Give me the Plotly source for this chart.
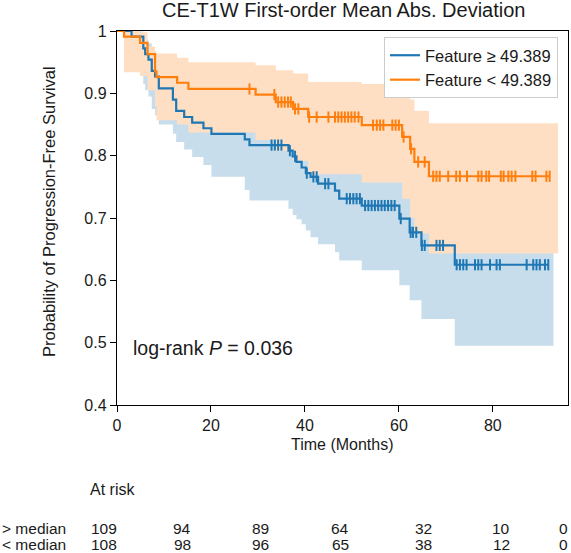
import numpy as np
import plotly.graph_objects as go

# ---------------- data ----------------
title = "CE-T1W First-order Mean Abs. Deviation"
hi_label = "Feature \u2265 49.389"
lo_label = "Feature < 49.389"

# group "Feature >= 49.389" (blue)
hi_times = [0, 3.1, 5.6, 6.0, 6.7, 7.4, 8.1, 8.9, 11.9, 12.6, 14.3, 16.0, 18.4, 20.1, 27.2, 28.2,
            36.5, 37.4, 38.2, 39.3, 40.2, 41.2, 42.8, 46.4, 47.3, 52.1, 60.1, 62.3, 64.8, 71.9]
hi_surv = [1.0, .991, .972, .963, .954, .936, .927, .908, .890, .872, .862, .853, .844, .835, .826, .817,
           .808, .799, .790, .781, .772, .766, .755, .744, .731, .720, .699, .677, .656, .625]
hi_lower = [1.0, .936, .915, .905, .895, .875, .865, .850, .835, .822, .810, .798, .785, .766, .745, .728,
            .715, .705, .698, .690, .680, .669, .658, .645, .632, .616, .592, .568, .538, .495]
hi_upper = [1.0, .999, .991, .986, .980, .969, .963, .950, .936, .922, .914, .907, .900, .893, .886, .879,
            .872, .866, .860, .853, .846, .840, .833, .825, .815, .806, .792, .775, .757, .733]
hi_censor = [32.9, 33.6, 34.3, 35.0, 36.8, 37.9, 40.4, 41.8, 42.5, 44.3, 45.0, 48.9, 49.6, 50.3, 51.0,
             51.7, 52.8, 53.5, 54.2, 54.9, 55.6, 56.3, 57.0, 57.7, 58.4, 59.1, 60.4, 62.5, 63.0, 63.7,
             64.9, 65.5, 68.0, 68.7, 69.4, 72.3, 73.0, 73.7, 74.4, 76.2, 76.9, 77.6, 79.4, 80.8, 81.5,
             87.2, 88.6, 89.3, 90.0, 91.1, 91.8]
hi_band_end = 92.9

# group "Feature < 49.389" (orange)
lo_times = [0, 1.5, 4.9, 6.5, 8.1, 8.4, 12.8, 15.2, 29.5, 33.8, 37.5, 40.7, 52.1, 60.7, 62.4, 63.3, 66.4]
lo_surv = [1.0, .991, .981, .963, .935, .926, .917, .907, .898, .886, .875, .862, .849, .830, .811, .790, .767]
lo_lower = [1.0, .934, .928, .905, .880, .857, .850, .837, .825, .808, .792, .770, .757, .731, .700, .675, .643]
lo_upper = [1.0, 1.0, .998, .975, .968, .964, .957, .950, .945, .937, .932, .918, .915, .902, .890, .872, .852]
lo_censor = [28.2, 33.5, 34.3, 35.0, 35.7, 36.4, 37.0, 37.9, 38.6, 40.9, 42.5, 45.0, 46.4, 47.1, 47.8,
             48.5, 49.2, 49.9, 50.6, 51.4, 54.5, 55.3, 56.0, 56.7, 58.6, 59.3, 60.0, 61.0, 62.6, 64.1,
             65.5, 67.3, 68.0, 68.7, 70.5, 72.2, 73.0, 74.5, 76.9, 77.6, 78.6, 79.2, 81.7, 82.3, 83.3,
             84.0, 84.8, 88.4, 89.1, 91.4, 92.1]
lo_band_end = 93.9

x_ticks = [0, 20, 40, 60, 80]
y_ticks = [0.4, 0.5, 0.6, 0.7, 0.8, 0.9, 1.0]
y_ticktext = ["0.4", "0.5", "0.6", "0.7", "0.8", "0.9", "1"]

at_risk_title = "At risk"
at_risk_rows = ["> median", "< median"]
at_risk_hi = [109, 94, 89, 64, 32, 10, 0]
at_risk_lo = [108, 98, 96, 65, 38, 12, 0]

pvalue_text = "log-rank <i>P</i> = 0.036"

# ---------------- styling ----------------
BLUE = "#1f77b4"
ORANGE = "#ff7f0e"
BLUE_BAND = "rgb(199,221,236)"
ORANGE_BAND = "rgb(255,223,195)"
FONT = "Arial, Liberation Sans, sans-serif"
TXT = "#1a1a1a"

W, H = 571, 553
L, R, T, B = 117, 3, 31, 148
PW, PH = W - L - R, H - T - B


def px_x(X):
    return (X - L) / PW


def px_y(Y):
    return (H - B - Y) / PH


fig = go.Figure()


def add_band(times, lower, upper, end, color):
    xs = list(times) + [end]
    lo = list(lower) + [lower[-1]]
    up = list(upper) + [upper[-1]]
    fig.add_trace(go.Scatter(x=xs, y=lo, mode="lines", line=dict(width=0, shape="hv"),
                             showlegend=False, hoverinfo="skip"))
    fig.add_trace(go.Scatter(x=xs, y=up, mode="lines", line=dict(width=0, shape="hv"),
                             fill="tonexty", fillcolor=color, showlegend=False, hoverinfo="skip"))


add_band(hi_times, hi_lower, hi_upper, hi_band_end, BLUE_BAND)
add_band(lo_times, lo_lower, lo_upper, lo_band_end, ORANGE_BAND)


def add_curve(times, surv, censor, color, name):
    end = max(censor[-1], times[-1])
    xs = list(times) + [end]
    ys = list(surv) + [surv[-1]]
    fig.add_trace(go.Scatter(x=xs, y=ys, mode="lines", line=dict(color=color, width=2.2, shape="hv"),
                             name=name, showlegend=True))
    t = np.asarray(times)
    s = np.asarray(surv)
    idx = np.searchsorted(t, np.asarray(censor), side="right") - 1
    fig.add_trace(go.Scatter(x=censor, y=s[idx], mode="markers",
                             marker=dict(symbol="line-ns", size=8, line=dict(color=color, width=2)),
                             showlegend=False, hoverinfo="skip"))


add_curve(hi_times, hi_surv, hi_censor, BLUE, hi_label)
add_curve(lo_times, lo_surv, lo_censor, ORANGE, lo_label)

axis_common = dict(showline=True, linecolor="black", linewidth=1.4, mirror=True,
                   ticks="outside", ticklen=6, tickwidth=1.4, tickcolor="black",
                   showgrid=False, zeroline=False,
                   tickfont=dict(family=FONT, size=16, color=TXT))

fig.update_xaxes(range=[0, 96], tickvals=x_ticks, **axis_common)
fig.update_yaxes(range=[0.4, 1.0], tickvals=y_ticks, ticktext=y_ticktext, **axis_common)

ann = []
ann.append(dict(text=title, xref="paper", yref="paper", x=px_x(343), y=px_y(10),
                xanchor="center", yanchor="middle", showarrow=False,
                font=dict(family=FONT, size=20, color=TXT)))
ann.append(dict(text="Probability of Progression-Free Survival", xref="paper", yref="paper",
                x=px_x(49), y=px_y(212), textangle=-90, xanchor="center", yanchor="middle",
                showarrow=False, font=dict(family=FONT, size=16.5, color=TXT)))
ann.append(dict(text="Time (Months)", xref="paper", yref="paper", x=0.5, y=px_y(444),
                xanchor="center", yanchor="middle", showarrow=False,
                font=dict(family=FONT, size=16, color=TXT)))
ann.append(dict(text=pvalue_text, xref="paper", yref="paper", x=px_x(131), y=px_y(348),
                xanchor="left", yanchor="middle", showarrow=False,
                font=dict(family=FONT, size=19.5, color=TXT)))
ann.append(dict(text=at_risk_title, xref="paper", yref="paper", x=px_x(88), y=px_y(489),
                xanchor="left", yanchor="middle", showarrow=False,
                font=dict(family=FONT, size=16, color=TXT)))

TABLE_FONT = dict(family=FONT, size=15.5, color=TXT)
row_px = [528, 544]
col_px = [104, 182, 260, 340, 423, 501, 563]
for r, (lab, vals) in enumerate(zip(at_risk_rows, [at_risk_hi, at_risk_lo])):
    ann.append(dict(text=lab, xref="paper", yref="paper", x=px_x(1), y=px_y(row_px[r]),
                    xanchor="left", yanchor="middle", showarrow=False, borderpad=0, font=TABLE_FONT))
    for c, v in enumerate(vals):
        ann.append(dict(text=str(v), xref="paper", yref="paper", x=px_x(col_px[c]), y=px_y(row_px[r]),
                        xanchor="center", yanchor="middle", showarrow=False, borderpad=0,
                        font=TABLE_FONT))

fig.update_layout(
    width=W, height=H,
    margin=dict(l=L, r=R, t=T, b=B, pad=0),
    paper_bgcolor="white", plot_bgcolor="white",
    annotations=ann,
    legend=dict(x=px_x(558), y=px_y(37), xanchor="right", yanchor="top",
                bgcolor="white", bordercolor="#cccccc", borderwidth=1,
                font=dict(family=FONT, size=16.5, color=TXT),
                traceorder="normal", tracegroupgap=0, itemwidth=30),
    font=dict(family=FONT),
)

fig.write_html(
    "out.html",
    config={"displayModeBar": False},
    post_script="document.body.style.margin='0';document.body.style.overflow='hidden';"
                "document.documentElement.style.overflow='hidden';",
)
